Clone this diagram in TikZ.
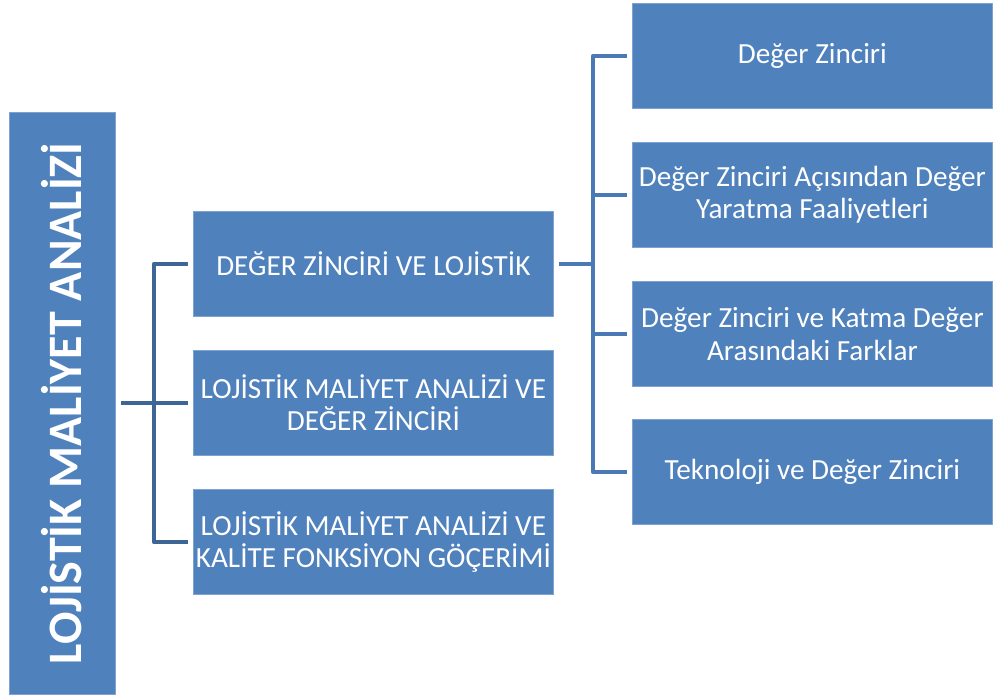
\documentclass[tikz,border=0pt]{standalone}
\usepackage{fontspec}
\setmainfont{Carlito}
\definecolor{boxblue}{HTML}{4F81BD}
\definecolor{boxedge}{HTML}{7FA3D0}
\definecolor{darkbus}{HTML}{3D6696}
\definecolor{lightbus}{HTML}{4A79B5}
\begin{document}
\begin{tikzpicture}[x=1pt,y=-1pt,
  box/.style={draw=boxedge, fill=boxblue, text=white, line width=0.8pt,
    minimum width=360pt, minimum height=105pt, align=center, inner sep=0pt,
    font=\fontsize{29.2}{32.5}\selectfont, anchor=north west},
  bus/.style={line width=4.5pt, line join=round},
  leftbus/.style={bus, draw=darkbus},
  rightbus/.style={bus, draw=lightbus}]
\useasboundingbox (0,0) rectangle (997,696);

% root box with vertical title
\node[draw=boxedge, fill=boxblue, line width=0.8pt, minimum width=106pt,
  minimum height=582pt, inner sep=0pt, anchor=north west] (root) at (9,112) {};
\node[rotate=90, text=white, font=\fontsize{48}{52}\selectfont\bfseries]
  (title) at ([xshift=-1pt]root.center) {LOJİSTİK MALİYET ANALİZİ};

% middle column
\node[box] (m1) at (193,211) {DEĞER ZİNCİRİ VE LOJİSTİK};
\node[box] (m2) at (193,350) {LOJİSTİK MALİYET ANALİZİ VE\\DEĞER ZİNCİRİ};
\node[box] (m3) at (193,489) {LOJİSTİK MALİYET ANALİZİ VE\\KALİTE FONKSİYON GÖÇERİMİ};

% right column
\node[box] (r1) at (632,3) {Değer Zinciri};
\node[box] (r2) at (632,142) {Değer Zinciri Açısından Değer\\Yaratma Faaliyetleri};
\node[box] (r3) at (632,281) {Değer Zinciri ve Katma Değer\\Arasındaki Farklar};
\node[box] (r4) at (632,419) {Teknoloji ve Değer Zinciri};

% left bracket
\coordinate (lb) at (154,0);
\draw[leftbus] ([xshift=5pt]root.east |- m2.west) -- ([xshift=-5pt]m2.west);
\draw[leftbus] ([xshift=-5pt]m1.west) -| (lb |- m3.west) -- ([xshift=-5pt]m3.west);

% right bracket
\coordinate (rb) at (593,0);
\draw[rightbus] ([xshift=5pt]m1.east) -- (rb |- m1.east);
\draw[rightbus] ([xshift=-5pt]r1.west) -| (rb |- r4.west) -- ([xshift=-5pt]r4.west);
\draw[rightbus] (rb |- r2.west) -- ([xshift=-5pt]r2.west);
\draw[rightbus] (rb |- r3.west) -- ([xshift=-5pt]r3.west);
\end{tikzpicture}
\end{document}
